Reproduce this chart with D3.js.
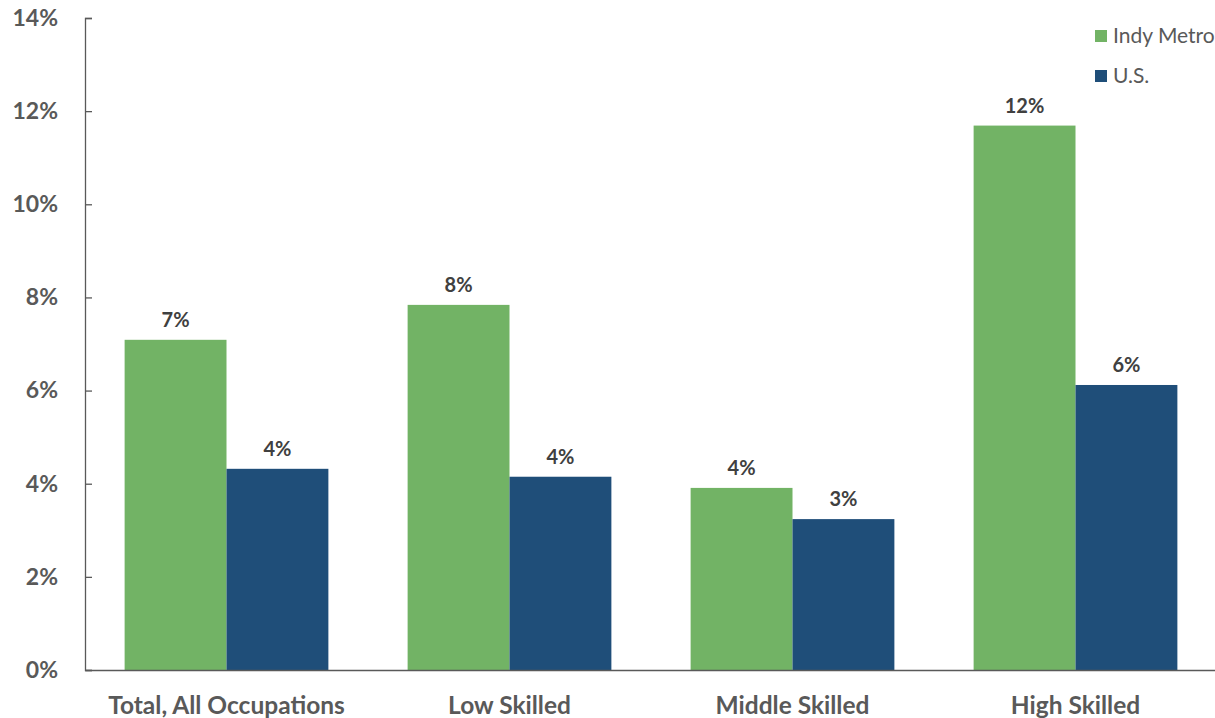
<!DOCTYPE html>
<meta charset="utf-8">
<style>
  body { margin: 0; background: #fff; }
  text { font-family: Lato, "Open Sans", sans-serif; }
</style>
<svg width="1215" height="718"></svg>
<script src="https://cdn.jsdelivr.net/npm/d3@7/dist/d3.min.js"></script>
<script>
  // chart data
  var categories = ["Total, All Occupations", "Low Skilled", "Middle Skilled", "High Skilled"];
  var seriesNames = ["Indy Metro", "U.S."];
  var indyMetro = [0.0709, 0.0784, 0.0391, 0.1169];
  var us = [0.0432, 0.0415, 0.0324, 0.0612];
  var yTicks = [0, 0.02, 0.04, 0.06, 0.08, 0.10, 0.12, 0.14];
  var colors = ["#72b365", "#1f4e79"];

  var svg = d3.select("svg");

  // scales
  var x0 = d3.scaleBand()
    .domain(categories)
    .range([85, 1217])
    .paddingInner(0.28)
    .paddingOuter(0.14);
  var x1 = d3.scaleBand()
    .domain(seriesNames)
    .range([0, x0.bandwidth()]);
  var y = d3.scaleLinear()
    .domain([0, 0.14])
    .range([670, 18]);

  var rows = categories.map(function(c, i) {
    return { cat: c, vals: [indyMetro[i], us[i]] };
  });

  // bars
  var group = svg.selectAll("g.cat")
    .data(rows)
    .enter().append("g")
    .attr("class", "cat")
    .attr("transform", function(d) { return "translate(" + x0(d.cat) + ",0)"; });

  group.selectAll("rect")
    .data(function(d) { return d.vals.map(function(v, j) { return { s: seriesNames[j], v: v, j: j }; }); })
    .enter().append("rect")
    .attr("x", function(d) { return x1(d.s); })
    .attr("y", function(d) { return y(d.v); })
    .attr("width", x1.bandwidth())
    .attr("height", function(d) { return y(0) - y(d.v); })
    .attr("fill", function(d) { return colors[d.j]; });

  // data labels
  group.selectAll("text.lbl")
    .data(function(d) { return d.vals.map(function(v, j) { return { s: seriesNames[j], v: v }; }); })
    .enter().append("text")
    .attr("class", "lbl")
    .attr("x", function(d) { return x1(d.s) + x1.bandwidth() / 2; })
    .attr("y", function(d) { return y(d.v) - 13; })
    .attr("text-anchor", "middle")
    .attr("font-size", 20)
    .attr("font-weight", "bold")
    .attr("fill", "#404040")
    .text(function(d) { return d3.format(".0%")(d.v); });

  // y axis
  var yAxis = d3.axisLeft(y)
    .tickValues(yTicks)
    .tickSize(-7)
    .tickPadding(27)
    .tickFormat(d3.format(".0%"));
  var gy = svg.append("g")
    .attr("transform", "translate(85,0)")
    .call(yAxis);
  gy.select(".domain").attr("stroke", "#595959").attr("stroke-width", 1.3);
  gy.selectAll(".tick line").attr("stroke", "#595959").attr("stroke-width", 1.3);
  gy.selectAll(".tick text")
    .attr("font-size", 23)
    .attr("font-weight", "bold")
    .attr("fill", "#595959")
    .attr("font-family", "Lato, sans-serif");

  // x axis
  var xAxis = d3.axisBottom(x0).tickSize(0).tickPadding(27);
  var gx = svg.append("g")
    .attr("transform", "translate(0,670)")
    .call(xAxis);
  gx.select(".domain").attr("stroke", "#595959").attr("stroke-width", 1.3);
  gx.selectAll(".tick text")
    .attr("font-size", 24.5)
    .attr("font-weight", "bold")
    .attr("fill", "#595959")
    .attr("font-family", "Lato, sans-serif");

  // legend
  var legend = svg.selectAll("g.leg")
    .data(seriesNames)
    .enter().append("g")
    .attr("class", "leg")
    .attr("transform", function(d, i) { return "translate(1095," + (30 + i * 40) + ")"; });
  legend.append("rect")
    .attr("width", 12)
    .attr("height", 12)
    .attr("fill", function(d, i) { return colors[i]; });
  legend.append("text")
    .attr("x", 18)
    .attr("y", 6)
    .attr("dy", "0.35em")
    .attr("font-size", 21)
    .attr("fill", "#595959")
    .text(function(d) { return d; });
</script>
